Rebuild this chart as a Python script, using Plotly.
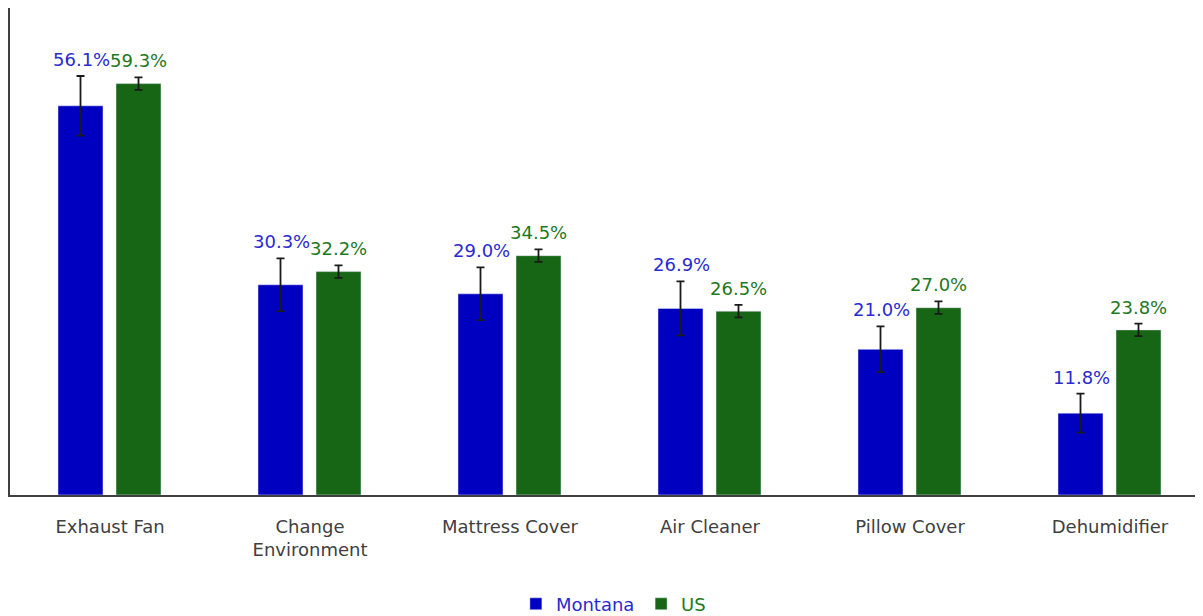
import plotly.graph_objects as go

categories = ["Exhaust Fan", "Change<br>Environment", "Mattress Cover",
              "Air Cleaner", "Pillow Cover", "Dehumidifier"]
montana = [56.1, 30.3, 29.0, 26.9, 21.0, 11.8]
montana_err = [4.3, 3.8, 3.8, 3.9, 3.3, 2.8]
us = [59.3, 32.2, 34.5, 26.5, 27.0, 23.8]
us_err = [0.9, 0.9, 0.9, 0.9, 0.9, 0.9]

BLUE = "#0000C0"
GREEN = "#166616"
FONT = "DejaVu Sans"

fig = go.Figure()
fig.add_trace(go.Bar(
    x=categories, y=montana, name="Montana", marker_color=BLUE,
    width=0.225, offset=-0.26, legend="legend", showlegend=True,
    error_y=dict(type="data", array=montana_err, color="#1a1a1a", thickness=1.8, width=4),
))
fig.add_trace(go.Bar(
    x=categories, y=us, name="US", marker_color=GREEN,
    width=0.225, offset=0.03, legend="legend2", showlegend=True,
    error_y=dict(type="data", array=us_err, color="#1a1a1a", thickness=1.8, width=4),
))

# value labels sit just above each error bar
for cat, v, e in zip(categories, montana, montana_err):
    fig.add_annotation(x=cat, y=v + e, xshift=-29, yshift=4, yanchor="bottom",
                       text=f"{v:.1f}%", showarrow=False,
                       font=dict(family=FONT, size=18, color="#2A2AD0"))
for cat, v, e in zip(categories, us, us_err):
    fig.add_annotation(x=cat, y=v + e, xshift=28, yshift=4, yanchor="bottom",
                       text=f"{v:.1f}%", showarrow=False,
                       font=dict(family=FONT, size=18, color="#1E781E"))

# the page body adds an 8px margin, so the figure is sized to fit inside it
fig.update_layout(
    width=1195, height=608,
    paper_bgcolor="white", plot_bgcolor="white",
    margin=dict(l=2, r=0, t=0, b=121, autoexpand=False),
    barmode="group",
    font=dict(family=FONT, size=18, color="#404040"),
    legend=dict(orientation="h", x=0.528, xanchor="right", y=-0.186, yanchor="top",
                font=dict(family=FONT, size=18, color="#2A2AD0"), bgcolor="rgba(0,0,0,0)",
                itemwidth=30),
    legend2=dict(orientation="h", x=0.529, xanchor="left", y=-0.186, yanchor="top",
                 font=dict(family=FONT, size=18, color="#1E781E"), bgcolor="rgba(0,0,0,0)",
                 itemwidth=30),
)
fig.update_xaxes(range=[-0.5, 5.465], showline=True, linecolor="#404040", linewidth=2,
                 ticks="", automargin=False, ticklabelstandoff=14,
                 tickfont=dict(family=FONT, size=18, color="#404040"))
fig.update_yaxes(range=[0, 70.2], showline=True, linecolor="#404040", linewidth=2,
                 showgrid=False, showticklabels=False, ticks="", zeroline=False,
                 automargin=False)

fig.write_html("out.html")
